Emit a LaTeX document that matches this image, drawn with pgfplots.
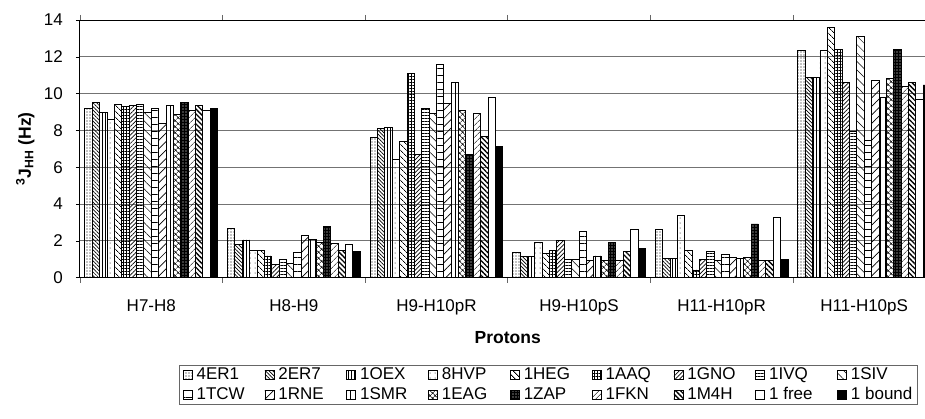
\documentclass[border=0pt]{standalone}
\usepackage{fontspec}
\setmainfont{Liberation Sans}
\usepackage{pgfplots}
\pgfplotsset{compat=1.18}
\usepackage{pgfplotstable}
\usetikzlibrary{patterns,patterns.meta}

\pgfplotstableread{
x  s1    s2    s3    s4    s5    s6    s7    s8    s9    s10   s11   s12   s13   s14   s15   s16   s17   s18
0  9.2   9.5   9.0   8.6   9.4   9.3   9.35  9.4   9.0   9.2   8.4   9.35  8.85  9.5   9.1   9.35  9.1   9.2
1  2.7   1.8   2.05  1.5   1.5   1.18  0.7   1.0   0.78  1.38  2.28  2.08  1.9   2.8   1.87  1.5   1.8   1.4
2  7.6   8.1   8.17  6.4   7.4   11.1  6.67  9.2   8.93  11.6  9.47  10.6  9.07  6.7   8.9   7.66  9.8   7.12
3  1.38  1.14  1.14  1.9   1.32  1.5   2.0   1.0   1.0   2.5   0.92  1.18  0.96  1.9   0.96  1.41  2.64  1.58
4  2.64  1.05  1.05  3.4   1.5   0.42  1.0   1.41  0.92  1.29  1.1   1.05  1.09  2.92  0.92  0.92  3.28  1.0
5  12.34 10.87 10.87 12.34 13.6  12.4  10.6  7.97  13.1  7.48  10.69 9.8   10.8  12.4  10.38 10.6  9.7   10.47
}\datatable

\pgfplotsset{
  bb/.style={draw=black, line width=0.9pt},
  myleg/.style={legend image code/.code={\draw[##1,line width=0.8pt] (0pt,-4.5pt) rectangle (9pt,4.5pt);}},
}
\newcommand{\legtxt}[1]{\makebox[64pt][l]{#1}}

\begin{document}
\begin{tikzpicture}
\begin{axis}[
  at={(0,0)}, anchor=south west,
  scale only axis, width=855.5pt, height=257.7pt,
  xmin=-0.5, xmax=5.5, ymin=0, ymax=14,
  ybar, bar width=0.0517,
  myleg,
  axis line style={black, line width=1pt},
  ytick={0,2,...,14},
  ymajorgrids, grid style={black!55, line width=0.8pt},
  tick align=outside,
  major tick length=4pt,
  xtick={0,1,2,3,4,5},
  xticklabels={H7-H8,H8-H9,H9-H10pR,H9-H10pS,H11-H10pR,H11-H10pS},
  x tick style={draw=none},
  minor xtick={-0.5,0.5,1.5,2.5,3.5,4.5,5.5},
  minor x tick style={draw=black!60, line width=0.6pt},
  minor tick length=5pt,
  y tick style={black, line width=0.6pt},
  /pgf/number format/assume math mode=true,
  ticklabel style={font=\fontsize{17}{19}\selectfont},
  xticklabel style={yshift=-14pt},
  yticklabel style={inner xsep=0pt, xshift=-13pt},
  xlabel={\textbf{Protons}},
  xlabel style={font=\fontsize{17.5}{20}\selectfont, at={(axis description cs:0.5,-0.233)}, anchor=center},
  ylabel={\textbf{\textsuperscript{3}J\textsubscript{HH} (Hz)}},
  ylabel style={font=\fontsize{17.5}{20}\selectfont, at={(axis description cs:-0.064,0.5)}, anchor=center},
  legend columns=9,
  legend cell align=left,
  legend style={at={(axis description cs:0.9792,-0.3386)}, anchor=north east,
    draw=black!60, line width=0.6pt,
    font=\fontsize{17}{19}\selectfont,
    nodes={inner xsep=2pt, inner ysep=0pt, text height=12.5pt, text depth=3.5pt},
    column sep=2pt, row sep=3.5pt},
]
\addplot[bb, bar shift=-0.43945, pattern={Dots[distance=3pt,radius=0.55pt]}] table[x=x,y=s1]{\datatable};
\addlegendentry{\legtxt{4ER1}}
\addplot[bb, bar shift=-0.38775, pattern={Lines[angle=-45,distance=2.6pt,line width=0.7pt]}] table[x=x,y=s2]{\datatable};
\addlegendentry{\legtxt{2ER7}}
\addplot[bb, bar shift=-0.33605, pattern={Lines[angle=90,distance=3pt,line width=0.9pt]}] table[x=x,y=s3]{\datatable};
\addlegendentry{\legtxt{1OEX}}
\addplot[bb, bar shift=-0.28435, pattern={Dots[distance=5pt,radius=0.5pt]}] table[x=x,y=s4]{\datatable};
\addlegendentry{\legtxt{8HVP}}
\addplot[bb, bar shift=-0.23265, pattern={Lines[angle=-45,distance=4pt,line width=0.8pt]}] table[x=x,y=s5]{\datatable};
\addlegendentry{\legtxt{1HEG}}
\addplot[bb, bar shift=-0.18095, pattern={Hatch[angle=0,distance=3pt,line width=0.7pt]}] table[x=x,y=s6]{\datatable};
\addlegendentry{\legtxt{1AAQ}}
\addplot[bb, bar shift=-0.12925, pattern={Lines[angle=45,distance=3pt,line width=0.7pt]}] table[x=x,y=s7]{\datatable};
\addlegendentry{\legtxt{1GNO}}
\addplot[bb, bar shift=-0.07755, pattern={Lines[angle=0,distance=3pt,line width=0.7pt]}] table[x=x,y=s8]{\datatable};
\addlegendentry{\legtxt{1IVQ}}
\addplot[bb, bar shift=-0.02585, pattern={Lines[angle=-45,distance=6pt,line width=0.5pt]}] table[x=x,y=s9]{\datatable};
\addlegendentry{1SIV}
\addplot[bb, bar shift=0.02585, pattern={Lines[angle=0,distance=7pt,line width=0.4pt]}] table[x=x,y=s10]{\datatable};
\addlegendentry{\legtxt{1TCW}}
\addplot[bb, bar shift=0.07755, pattern={Lines[angle=45,distance=6pt,line width=0.7pt]}] table[x=x,y=s11]{\datatable};
\addlegendentry{\legtxt{1RNE}}
\addplot[bb, bar shift=0.12925, pattern={Lines[angle=90,distance=5pt,line width=0.5pt]}] table[x=x,y=s12]{\datatable};
\addlegendentry{\legtxt{1SMR}}
\addplot[bb, bar shift=0.18095, pattern={Hatch[angle=45,distance=4pt,line width=0.6pt]}] table[x=x,y=s13]{\datatable};
\addlegendentry{\legtxt{1EAG}}
\addplot[bb, bar shift=0.23265, fill=black, postaction={pattern={Dots[distance=3pt,radius=0.7pt]}, pattern color=white}] table[x=x,y=s14]{\datatable};
\addlegendentry{\legtxt{1ZAP}}
\addplot[bb, bar shift=0.28435, pattern={Lines[angle=45,distance=4pt,line width=0.6pt]}] table[x=x,y=s15]{\datatable};
\addlegendentry{\legtxt{1FKN}}
\addplot[bb, bar shift=0.33605, pattern={Lines[angle=-45,distance=3.5pt,line width=1.3pt]}] table[x=x,y=s16]{\datatable};
\addlegendentry{\legtxt{1M4H}}
\addplot[bb, bar shift=0.38775, fill=white] table[x=x,y=s17]{\datatable};
\addlegendentry{\legtxt{1 free}}
\addplot[bb, bar shift=0.43945, fill=black] table[x=x,y=s18]{\datatable};
\addlegendentry{1 bound}
\end{axis}
\pgfresetboundingbox
\useasboundingbox (-80pt,-140.3pt) rectangle (845pt,277.7pt);
\end{tikzpicture}
\end{document}
